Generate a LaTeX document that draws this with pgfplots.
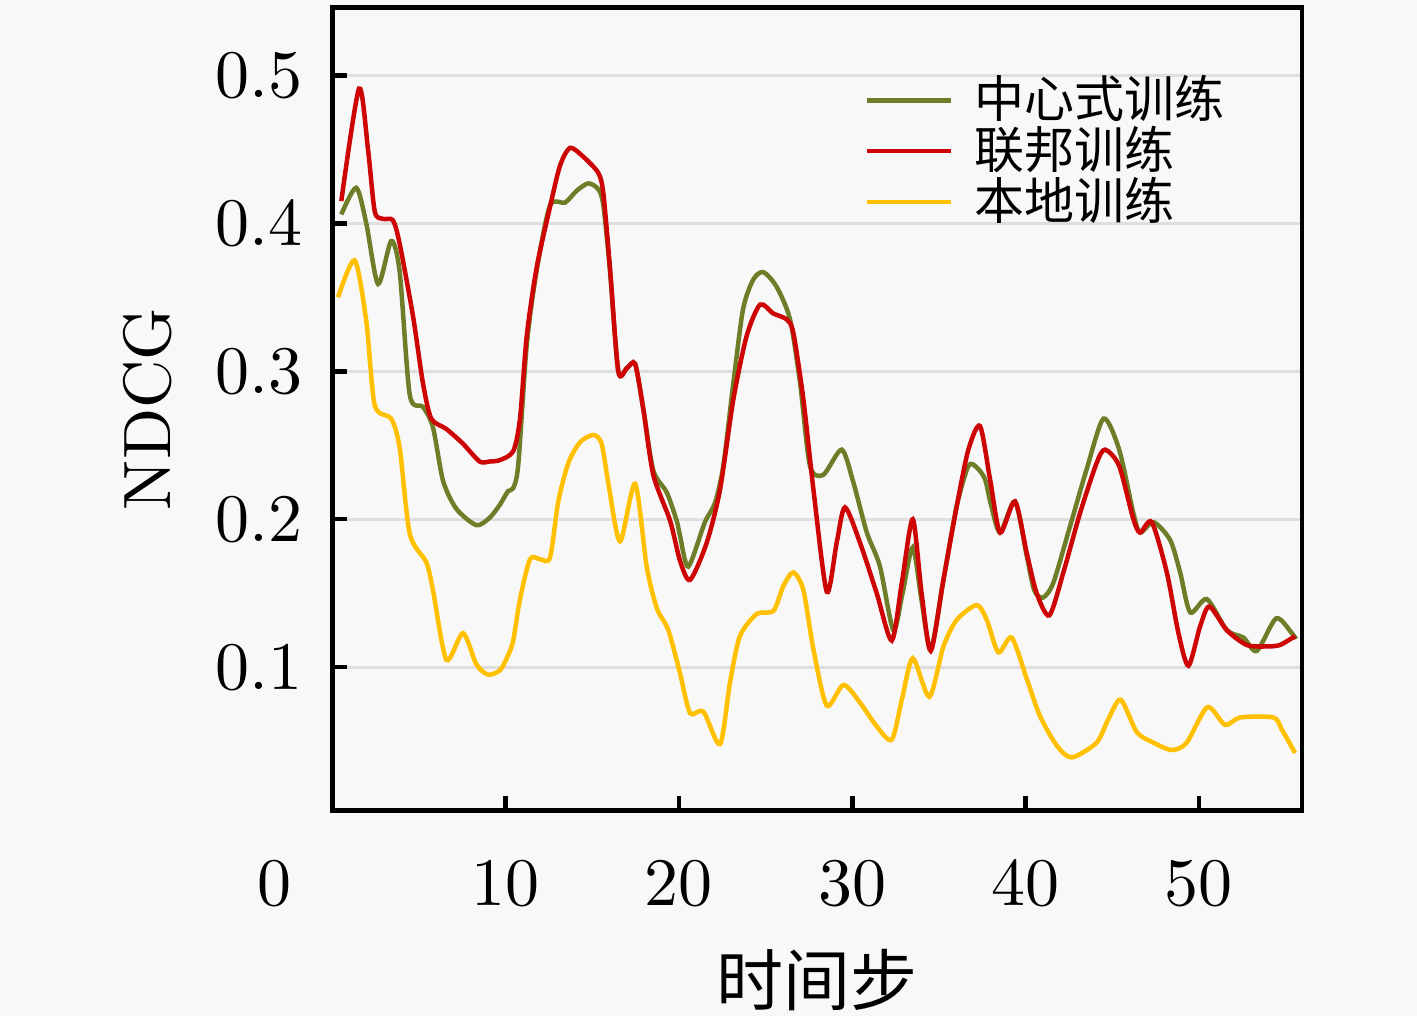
\documentclass[border=0pt]{standalone}
\usepackage{pgfplots}
\pgfplotsset{compat=1.18}
\usepackage{fontspec}
\newfontfamily\cjk{Noto Sans CJK SC}
\definecolor{bg}{HTML}{F8F8F8}
\definecolor{cgreen}{RGB}{110,125,40}
\definecolor{cred}{RGB}{205,5,5}
\definecolor{cyellow}{RGB}{255,192,0}
\definecolor{gridc}{RGB}{222,222,222}
\begin{document}
\begin{tikzpicture}
\fill[bg] (-66.46pt,-41.06pt) rectangle (216.94pt,162.14pt);
\begin{axis}[
  at={(0pt,0pt)}, anchor=south west,
  scale only axis, width=193.94pt, height=160.68pt,
  xmin=0, xmax=55.95, ymin=0.003, ymax=0.546,
  axis line style={line width=0.9pt},
  tick style={line width=0.9pt, black},
  tick align=inside, major tick length=3pt,
  xtick pos=bottom, ytick pos=left,
  xtick={10,20,30,40,50},
  extra x ticks={0}, extra x tick style={major tick length=0pt, xticklabel style={xshift=-8.45pt}},
  ytick={0.1,0.2,0.3,0.4,0.5},
  yticklabel style={/pgf/number format/fixed, /pgf/number format/precision=1, xshift=-0.82pt},
  xticklabel style={yshift=-3.97pt},
  ticklabel style={font=\fontsize{10}{12}\selectfont, scale=1.36},
  ymajorgrids, grid style={gridc, line width=0.6pt},
  ylabel={NDCG}, xlabel={\cjk 时间步},
  ylabel style={at={(axis description cs:-0.19,0.5)}, anchor=center, font=\fontsize{10}{12}\selectfont, scale=1.34},
  xlabel style={at={(axis description cs:0.5,-0.211)}, anchor=center, font=\fontsize{13.4}{15}\selectfont},
  legend style={draw=none, fill=none, at={(axis description cs:0.5326,0.821)}, anchor=west,
    nodes={inner sep=0.6pt, font=\cjk\fontsize{10}{11}\selectfont}, row sep=-1pt},
  legend cell align=left,
  legend image code/.code={\draw[#1] (0pt,0pt) -- (16.8pt,0pt); \path[draw=none,fill=none] (0pt,0pt) -- (20.8pt,0pt);},
  every axis plot/.append style={line width=0.9pt, smooth, tension=0.45},
]
\addplot[cgreen] coordinates {
(0.52,0.406)(1.38,0.424)(1.96,0.400)(2.64,0.359)(3.40,0.388)(3.89,0.367)(4.47,0.284)
(5.23,0.276)(5.81,0.262)(6.39,0.226)(7.16,0.207)(8.31,0.196)(9.08,0.201)(9.68,0.210)
(10.14,0.219)(10.44,0.221)(10.73,0.237)(11.22,0.318)(11.79,0.368)(12.56,0.412)(13.43,0.414)
(14.10,0.422)(14.77,0.427)(15.35,0.423)(15.64,0.412)(16.02,0.368)(16.50,0.300)(16.99,0.302)
(17.47,0.305)(17.95,0.274)(18.52,0.233)(19.30,0.218)(19.87,0.199)(20.06,0.189)(20.54,0.168)
(21.50,0.198)(22.08,0.211)(22.56,0.236)(23.14,0.292)(23.70,0.342)(24.29,0.362)(24.87,0.367)
(25.64,0.357)(26.41,0.335)(26.99,0.292)(27.56,0.236)(28.33,0.230)(29.39,0.247)(30.06,0.225)
(30.84,0.191)(31.60,0.168)(32.37,0.125)(32.90,0.150)(33.49,0.181)(34.00,0.145)(34.53,0.112)
(35.26,0.159)(36.03,0.209)(36.70,0.236)(37.18,0.235)(37.66,0.227)(38.00,0.210)(38.53,0.191)
(39.39,0.212)(40.07,0.175)(40.50,0.152)(41.00,0.147)(41.60,0.157)(42.56,0.195)(43.53,0.234)
(44.50,0.268)(45.40,0.247)(46.22,0.204)(46.61,0.191)(47.38,0.198)(48.34,0.186)(48.92,0.164)
(49.50,0.137)(50.46,0.146)(51.61,0.125)(52.57,0.120)(53.34,0.111)(54.46,0.133)(55.36,0.123)
(55.60,0.119)
};
\addlegendentry{中心式训练}
\addplot[cred] coordinates {
(0.52,0.415)(1.54,0.491)(2.06,0.450)(2.45,0.408)(2.93,0.403)(3.50,0.402)(3.89,0.386)
(4.66,0.337)(5.23,0.292)(5.71,0.268)(6.58,0.261)(7.54,0.251)(8.50,0.239)(9.08,0.239)
(9.68,0.240)(10.44,0.246)(10.83,0.268)(11.22,0.324)(11.79,0.370)(12.56,0.411)(13.14,0.439)
(13.72,0.451)(14.48,0.445)(15.35,0.434)(15.64,0.420)(16.02,0.370)(16.50,0.300)(16.99,0.302)
(17.47,0.305)(17.95,0.274)(18.52,0.230)(19.49,0.199)(20.06,0.172)(20.64,0.159)(21.60,0.184)
(22.37,0.220)(23.14,0.281)(23.91,0.324)(24.68,0.345)(25.45,0.339)(26.22,0.335)(26.60,0.326)
(27.18,0.281)(27.76,0.220)(28.53,0.151)(29.10,0.184)(29.58,0.208)(30.45,0.184)(31.41,0.150)
(32.28,0.118)(32.86,0.157)(33.49,0.200)(34.00,0.150)(34.53,0.111)(35.26,0.159)(36.03,0.209)
(36.70,0.247)(37.37,0.263)(37.95,0.227)(38.53,0.191)(39.39,0.212)(40.07,0.177)(40.64,0.150)
(41.37,0.135)(42.18,0.164)(43.14,0.204)(44.10,0.238)(44.59,0.247)(45.40,0.236)(46.22,0.200)
(46.61,0.191)(47.28,0.198)(48.15,0.164)(48.82,0.123)(49.40,0.101)(50.08,0.128)(50.61,0.141)
(51.61,0.125)(52.76,0.115)(53.91,0.114)(54.68,0.115)(55.55,0.121)
};
\addlegendentry{联邦训练}
\addplot[cyellow] coordinates {
(0.33,0.350)(1.29,0.375)(1.96,0.334)(2.45,0.277)(3.40,0.268)(3.89,0.248)(4.47,0.190)
(5.42,0.171)(5.81,0.152)(6.58,0.105)(7.54,0.123)(8.31,0.102)(8.98,0.095)(9.68,0.098)
(10.14,0.108)(10.44,0.118)(10.83,0.146)(11.41,0.173)(11.98,0.173)(12.56,0.174)(13.04,0.212)
(13.62,0.238)(14.29,0.252)(15.06,0.257)(15.54,0.251)(15.93,0.224)(16.60,0.185)(17.47,0.224)
(18.14,0.168)(18.72,0.140)(19.39,0.125)(20.06,0.096)(20.64,0.069)(21.41,0.070)(22.37,0.048)
(22.95,0.090)(23.52,0.121)(24.49,0.136)(25.45,0.138)(26.03,0.155)(26.60,0.164)(27.18,0.152)
(27.76,0.112)(28.53,0.074)(29.49,0.088)(30.45,0.076)(31.41,0.060)(32.28,0.051)(32.86,0.078)
(33.49,0.106)(34.45,0.080)(35.26,0.114)(36.03,0.132)(37.18,0.142)(37.76,0.132)(38.43,0.110)
(39.20,0.120)(40.07,0.092)(40.83,0.067)(41.80,0.047)(42.66,0.039)(44.10,0.049)(44.78,0.065)
(45.49,0.078)(46.42,0.056)(47.38,0.049)(48.44,0.044)(49.30,0.049)(50.49,0.073)(51.51,0.061)
(52.38,0.066)(54.30,0.066)(54.78,0.058)(55.55,0.042)
};
\addlegendentry{本地训练}
\end{axis}
\end{tikzpicture}
\end{document}
